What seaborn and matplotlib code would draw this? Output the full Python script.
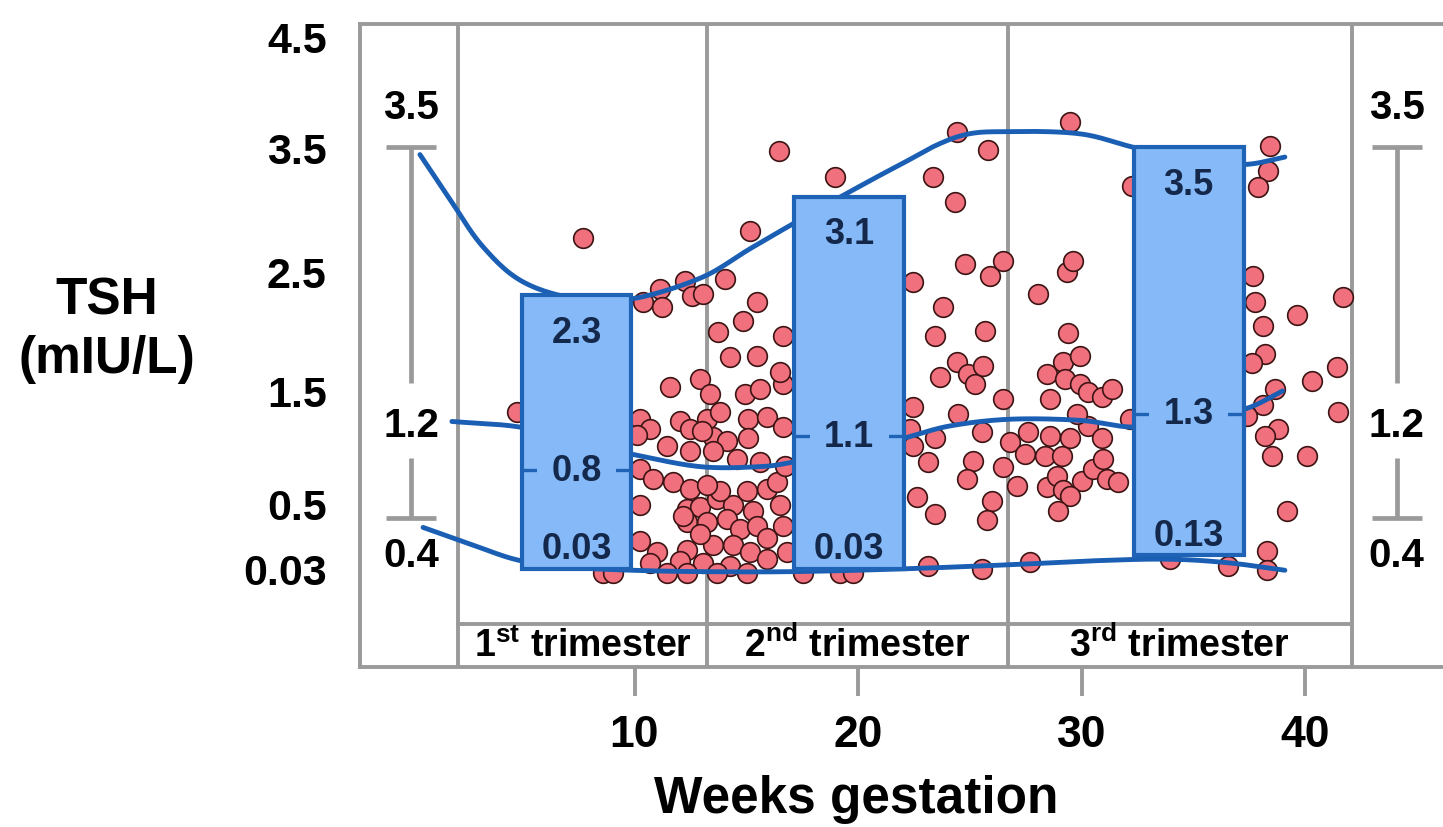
import numpy as np
import matplotlib
matplotlib.use("Agg")
import matplotlib.pyplot as plt
import matplotlib.transforms as mtransforms
import seaborn as sns

# ---------------- data ----------------
y_tick_values = [0.03, 0.5, 1.5, 2.5, 3.5, 4.5]
y_tick_labels = ["0.03", "0.5", "1.5", "2.5", "3.5", "4.5"]
x_tick_values = [10, 20, 30, 40]

trimester_labels = [r"1$^{\mathrm{st}}$ trimester",
                    r"2$^{\mathrm{nd}}$ trimester",
                    r"3$^{\mathrm{rd}}$ trimester"]
trimester_bounds = [2.1, 13.25, 26.7, 42.1]

box_week = [7.4, 19.6, 34.8]
box_upper = [2.3, 3.1, 3.5]
box_median = [0.8, 1.1, 1.3]
box_lower = [0.03, 0.03, 0.13]
box_upper_text = ["2.3", "3.1", "3.5"]
box_median_text = ["0.8", "1.1", "1.3"]
box_lower_text = ["0.03", "0.03", "0.13"]

ref_week = [0.0, 44.1]          # non-pregnant reference bars (left / right)
ref_lower, ref_median, ref_upper = 0.4, 1.2, 3.5
ref_text = ["0.4", "1.2", "3.5"]

point_week = [
    4.74, 8.59, 9.04, 7.70, 10.38, 11.14, 11.23, 12.26, 12.57, 11.59, 12.93, 13.38, 13.74,
    14.94, 15.62, 16.64, 10.25, 10.69, 12.04, 12.48, 13.24, 13.83, 13.51, 14.14, 15.08, 15.93, 16.64, 15.08,
    11.45, 12.48, 13.51, 14.59, 15.62,
    10.25, 10.83, 11.72, 12.48, 10.25, 12.35, 12.93, 13.69, 14.41, 15.03, 15.93, 16.38, 15.30, 16.51,
    12.35, 13.24, 14.14, 14.72, 15.48, 15.93, 16.64, 10.25, 11.01, 12.35, 13.51, 14.41, 15.17, 15.93, 16.82,
    10.69, 12.04, 13.06, 14.27, 11.45, 12.35, 13.69, 15.03, 17.54, 19.19, 19.78, 16.73, 12.93, 13.83,
    10.11, 13.24, 12.17,
    16.47, 18.97, 15.17, 14.05, 13.06, 15.48, 14.85, 16.64, 14.27, 15.48, 16.51, 13.02,
    23.36, 24.34, 24.43, 25.82, 29.49, 22.46, 24.79, 25.91, 26.49, 28.05, 29.35, 29.62, 23.80, 23.45, 25.68, 29.40,
    24.43, 24.92, 25.23, 25.59, 23.67, 26.49, 28.46, 29.17, 29.93, 29.26, 29.93, 28.59, 30.29, 30.92, 31.36,
    22.46, 24.47, 22.33, 22.46, 23.45, 25.55, 26.80, 27.61, 27.47, 28.37, 28.59, 29.49, 30.29, 30.92, 29.13, 29.80,
    23.13, 25.15, 24.88, 26.49, 27.11, 28.46, 28.90, 30.02, 30.51, 30.96, 31.14, 31.63, 29.17, 29.49,
    22.64, 23.45, 26.00, 25.77, 28.95, 23.13, 25.55, 27.70, 32.26, 32.17,
    38.43, 38.34, 37.90, 37.67, 37.76, 38.12, 38.21, 37.63, 38.66, 38.12, 38.79, 38.21, 38.52,
    39.64, 40.31, 41.43, 41.70, 41.48, 40.09, 39.19, 38.30, 38.30, 36.55, 33.96, 37.40,
]
point_tsh = [
    1.31, 0.00, 0.00, 2.77, 2.24, 2.35, 2.20, 2.42, 2.29, 1.53, 1.60, 1.47, 1.99,
    1.47, 1.52, 1.56, 1.25, 1.16, 1.23, 1.16, 1.25, 1.31, 1.09, 1.06, 1.25, 1.27, 1.18, 1.08,
    1.01, 0.97, 0.97, 0.90, 0.87,
    0.81, 0.72, 0.69, 0.63, 0.49, 0.46, 0.48, 0.54, 0.49, 0.61, 0.63, 0.69, 0.45, 0.49,
    0.37, 0.37, 0.39, 0.32, 0.34, 0.25, 0.34, 0.23, 0.15, 0.17, 0.20, 0.20, 0.15, 0.10, 0.15,
    0.07, 0.09, 0.07, 0.05, 0.00, 0.00, 0.00, 0.00, 0.00, 0.00, 0.00, 0.84, 0.28, 0.61,
    1.11, 0.67, 0.41,
    3.47, 3.26, 2.82, 2.43, 2.31, 2.24, 2.08, 1.96, 1.78, 1.79, 1.66, 1.15,
    3.26, 3.06, 3.64, 3.48, 3.73, 2.41, 2.56, 2.46, 2.58, 2.31, 2.49, 2.58, 2.20, 1.96, 2.00, 1.98,
    1.74, 1.64, 1.56, 1.71, 1.62, 1.43, 1.64, 1.74, 1.79, 1.60, 1.56, 1.43, 1.49, 1.45, 1.52,
    1.36, 1.30, 1.16, 1.01, 1.08, 1.14, 1.05, 1.14, 0.94, 0.92, 1.10, 1.08, 1.19, 1.08, 0.92, 1.30,
    0.87, 0.88, 0.72, 0.83, 0.66, 0.65, 0.75, 0.70, 0.81, 0.90, 0.72, 0.69, 0.62, 0.57,
    0.56, 0.43, 0.53, 0.38, 0.45, 0.05, 0.03, 0.08, 3.19, 1.25,
    3.51, 3.31, 3.18, 2.46, 2.24, 2.04, 1.81, 1.73, 1.52, 1.38, 1.16, 1.10, 0.92,
    2.13, 1.58, 1.70, 2.28, 1.31, 0.92, 0.45, 0.16, 0.02, 0.05, 0.10, 1.28,
]

upper_curve_week = [0.40, 1.74, 3.2, 5.01, 7.4, 9.93, 12.93, 15.17, 17.27, 19.33, 21.9, 24.56, 26.8, 29.93, 32.3, 35.0, 37.32, 39.1]
upper_curve_tsh = [3.44, 3.08, 2.70, 2.41, 2.27, 2.27, 2.44, 2.68, 2.90, 3.11, 3.36, 3.60, 3.64, 3.62, 3.50, 3.38, 3.36, 3.42]
median_curve_week = [1.83, 4.88, 7.4, 9.89, 12.93, 15.6, 17.09, 19.6, 22.01, 24.1, 26.8, 29.93, 32.3, 34.8, 37.32, 39.0]
median_curve_tsh = [1.23, 1.18, 1.05, 0.94, 0.83, 0.83, 0.87, 0.97, 1.08, 1.19, 1.25, 1.24, 1.18, 1.22, 1.34, 1.50]
lower_curve_week = [0.54, 2.64, 4.88, 7.4, 9.89, 12.93, 17.09, 22.0, 26.8, 30.8, 33.9, 36.5, 39.1]
lower_curve_tsh = [0.33, 0.21, 0.09, 0.04, 0.02, 0.01, 0.01, 0.03, 0.06, 0.09, 0.10, 0.075, 0.02]

# hand-drawn (non-uniform) spacing of the y axis between its tick values
axis_knot_pos = [0, 65, 178, 298, 422, 533]

# ---------------- style ----------------
GRAY = "#9a9a9a"
BOX_FILL = "#85b9f7"
BOX_EDGE = "#1e63b5"
CURVE = "#1a5fb4"
DOT_FACE = "#f0717d"
DOT_EDGE = "#3d1414"
LABEL_DARK = "#14284b"

sns.set_style("white")
plt.rcParams["font.family"] = ["Liberation Sans", "DejaVu Sans"]
plt.rcParams["font.weight"] = "bold"
plt.rcParams["mathtext.fontset"] = "custom"
plt.rcParams["mathtext.rm"] = "Liberation Sans:bold"
plt.rcParams["mathtext.bf"] = "Liberation Sans:bold"
plt.rcParams["text.color"] = "black"
plt.rcParams["axes.labelcolor"] = "black"
plt.rcParams["xtick.labelcolor"] = "black"
plt.rcParams["ytick.labelcolor"] = "black"


def _fwd(v):
    v = np.asarray(v, dtype=float)
    kv = np.array(y_tick_values, float)
    kp = np.array(axis_knot_pos, float)
    out = np.interp(v, kv, kp)
    lo = (kp[1] - kp[0]) / (kv[1] - kv[0])
    hi = (kp[-1] - kp[-2]) / (kv[-1] - kv[-2])
    out = np.where(v < kv[0], kp[0] + (v - kv[0]) * lo, out)
    out = np.where(v > kv[-1], kp[-1] + (v - kv[-1]) * hi, out)
    return out


def _inv(p):
    p = np.asarray(p, dtype=float)
    kv = np.array(y_tick_values, float)
    kp = np.array(axis_knot_pos, float)
    out = np.interp(p, kp, kv)
    lo = (kv[1] - kv[0]) / (kp[1] - kp[0])
    hi = (kv[-1] - kv[-2]) / (kp[-1] - kp[-2])
    out = np.where(p < kp[0], kv[0] + (p - kp[0]) * lo, out)
    out = np.where(p > kp[-1], kv[-1] + (p - kp[-1]) * hi, out)
    return out


def smooth(xs, ys, n=24):
    """Catmull-Rom rendering of a hand-drawn curve through its knots."""
    P = np.column_stack([xs, ys]).astype(float)
    P = np.vstack([2 * P[0] - P[1], P, 2 * P[-1] - P[-2]])
    out = []
    for i in range(1, len(P) - 2):
        p0, p1, p2, p3 = P[i - 1], P[i], P[i + 1], P[i + 2]
        t = np.linspace(0, 1, n, endpoint=False)[:, None]
        seg = 0.5 * ((2 * p1) + (-p0 + p2) * t + (2 * p0 - 5 * p1 + 4 * p2 - p3) * t ** 2
                     + (-p0 + 3 * p1 - 3 * p2 + p3) * t ** 3)
        out.append(seg)
    out.append(P[-2][None, :])
    out = np.vstack(out)
    return out[:, 0], out[:, 1]


W, H = 1443, 828
fig = plt.figure(figsize=(W / 100, H / 100), dpi=100)
ax = fig.add_axes([360 / W, (H - 668) / H, (W - 360) / W, 643 / H])
ax.set_yscale("function", functions=(_fwd, _inv))
ax.set_xlim((360 - 411) / 22.35, (1443 - 411) / 22.35)
ax.set_ylim(-0.68, 4.61)

LW_FRAME = 2.8
# frame
for side in ["left", "top", "bottom"]:
    ax.spines[side].set_color(GRAY)
    ax.spines[side].set_linewidth(LW_FRAME)
ax.spines["right"].set_visible(False)
for b in trimester_bounds:
    ax.axvline(b, color=GRAY, lw=LW_FRAME, zorder=1)
strip_tr = mtransforms.blended_transform_factory(ax.transData, ax.transAxes)
ax.plot([trimester_bounds[0], trimester_bounds[-1]], [0.067, 0.067], color=GRAY, lw=LW_FRAME,
        transform=strip_tr, zorder=1)
for i, lab in enumerate(trimester_labels):
    xc = 0.5 * (trimester_bounds[i] + trimester_bounds[i + 1])
    ax.text(xc, 0.034, lab, transform=strip_tr, ha="center", va="center", fontsize=27,
            color="black")

# scatter
sns.scatterplot(x=point_week, y=point_tsh, ax=ax, s=200, color=DOT_FACE, edgecolor=DOT_EDGE,
                linewidth=1.2, zorder=2, legend=False)

# reference curves
for cx, cy in [(upper_curve_week, upper_curve_tsh), (median_curve_week, median_curve_tsh),
               (lower_curve_week, lower_curve_tsh)]:
    sx, sy = smooth(cx, cy)
    ax.plot(sx, sy, color=CURVE, lw=3.5, zorder=3, solid_capstyle="round")

# trimester boxes
bw = 4.9
heights = [u - l for u, l in zip(box_upper, box_lower)]
ax.bar(box_week, heights, bottom=box_lower, width=bw, color=BOX_FILL, edgecolor=BOX_EDGE,
       linewidth=3.0, zorder=4)
for x, m, mt, u, ut, lo, lt in zip(box_week, box_median, box_median_text, box_upper,
                                   box_upper_text, box_lower, box_lower_text):
    ax.plot([x - bw / 2, x + bw / 2], [m, m], color=BOX_EDGE, lw=2.4, zorder=5)
    ax.text(x, m, mt, ha="center", va="center", fontsize=26, color=LABEL_DARK, zorder=6,
            bbox=dict(boxstyle="square,pad=0.4", fc=BOX_FILL, ec="none"))
    ax.annotate(ut, (x, u), xytext=(0, -37), textcoords="offset pixels", ha="center",
                va="center", fontsize=26, color=LABEL_DARK, zorder=6)
    ax.annotate(lt, (x, lo), xytext=(0, 20), textcoords="offset pixels", ha="center",
                va="center", fontsize=26, color=LABEL_DARK, zorder=6)

# non-pregnant reference bars (left and right panels)
fig.canvas.draw()
for x in ref_week:
    ymed_disp = ax.transData.transform((x, ref_median))[1]
    inv_t = ax.transData.inverted()
    y_top_end = inv_t.transform((0, ymed_disp + 42))[1]
    y_bot_start = inv_t.transform((0, ymed_disp - 33))[1]
    ax.plot([x, x], [ref_upper, y_top_end], color=GRAY, lw=3.4, zorder=2, solid_capstyle="butt")
    ax.plot([x, x], [y_bot_start, ref_lower], color=GRAY, lw=3.4, zorder=2, solid_capstyle="butt")
    for yv in (ref_upper, ref_lower):
        ax.plot([x - 1.12, x + 1.12], [yv, yv], color=GRAY, lw=3.4, zorder=2, solid_capstyle="butt")
    ax.text(x, ref_median, ref_text[1], ha="center", va="center", fontsize=29)
    ax.annotate(ref_text[2], (x, ref_upper), xytext=(0, 40), textcoords="offset pixels",
                ha="center", va="center", fontsize=29)
    ax.annotate(ref_text[0], (x, ref_lower), xytext=(0, -37), textcoords="offset pixels",
                ha="center", va="center", fontsize=29)

# axes ticks & labels
ax.set_yticks(y_tick_values)
ax.set_yticklabels(y_tick_labels)
ax.yaxis.set_minor_locator(matplotlib.ticker.NullLocator())
ax.tick_params(axis="y", left=False, length=0, pad=24, labelsize=31, labelcolor="black")
ax.set_xticks(x_tick_values)
ax.set_xticklabels([str(v) for v in x_tick_values])
ax.tick_params(axis="x", bottom=True, direction="out", length=21, width=LW_FRAME, color=GRAY,
               pad=13, labelsize=32, labelcolor="black")
for lab in ax.get_xticklabels() + ax.get_yticklabels():
    lab.set_fontweight("bold")

ax.set_ylabel("TSH\n(mIU/L)", rotation=0, fontsize=37, ha="center", va="center",
              linespacing=1.25, fontweight="bold", color="black")
ax.yaxis.set_label_coords((107 - 360) / 1083, (668 - 330) / 643)
ax.set_xlabel("Weeks gestation", fontsize=37, fontweight="bold", va="center", color="black")
ax.xaxis.set_label_coords((856 - 360) / 1083, (668 - 800) / 643)

fig.savefig("out.png", dpi=100)
